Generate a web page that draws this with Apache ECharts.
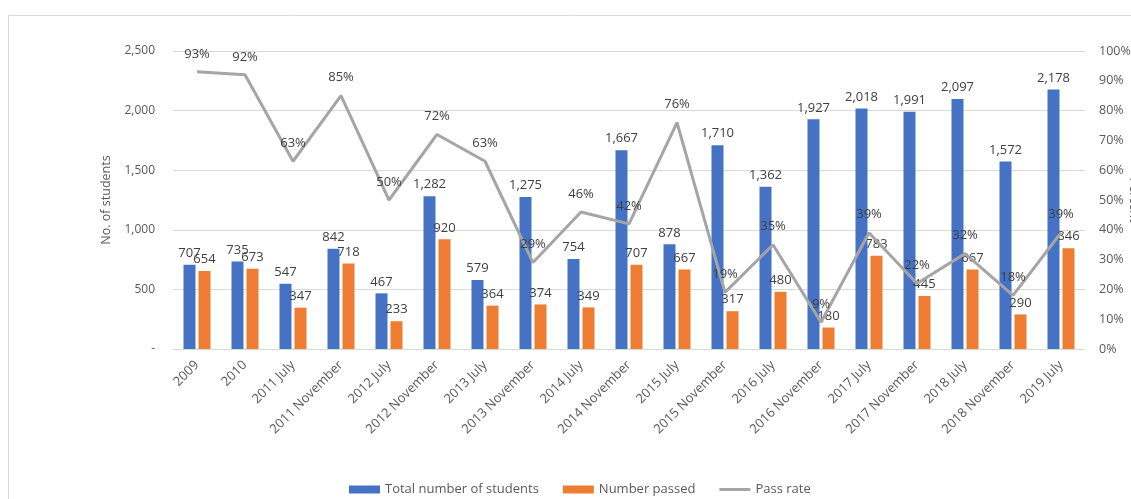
<!DOCTYPE html>
<html>
<head>
<meta charset="utf-8">
<script src="https://cdn.jsdelivr.net/npm/echarts@6/dist/echarts.min.js"></script>
<style>
html,body{margin:0;padding:0;background:#fff;}
#c{width:1131px;height:499px;}
</style>
</head>
<body>
<div id="c"></div>
<script>
const categories = ["2009","2010","2011 July","2011 November","2012 July","2012 November","2013 July","2013 November","2014 July","2014 November","2015 July","2015 November","2016 July","2016 November","2017 July","2017 November","2018 July","2018 November","2019 July"];
const totalStudents = [707,735,547,842,467,1282,579,1275,754,1667,878,1710,1362,1927,2018,1991,2097,1572,2178];
const numberPassed = [654,673,347,718,233,920,364,374,349,707,667,317,480,180,783,445,667,290,846];
const passRate = [93,92,63,85,50,72,63,29,46,42,76,19,35,9,39,22,32,18,39];

const FONT = '"Open Sans", "Liberation Sans", sans-serif';
const TXT = '#595959';
const chart = echarts.init(document.getElementById('c'), null, {renderer:'canvas'});
chart.setOption({
  animation:false,
  textStyle:{fontFamily:FONT},
  graphic:[{type:'rect',shape:{x:8.5,y:15.5,width:1140,height:500},style:{fill:'none',stroke:'#d9d9d9',lineWidth:1},silent:true}],
  grid:{left:173,right:46,top:51,bottom:150,containLabel:false,outerBoundsMode:'none'},
  legend:{
    top:478,left:344,itemWidth:31,itemHeight:8,itemGap:24,
    textStyle:{color:TXT,fontSize:13,fontFamily:FONT},
    data:[
      {name:'Total number of students',icon:'rect'},
      {name:'Number passed',icon:'rect'},
      {name:'Pass rate',icon:'path://M0,0h31v3h-31z',itemStyle:{color:'#a5a5a5',opacity:1}}
    ]
  },
  xAxis:{
    type:'category',data:categories,
    axisLine:{lineStyle:{color:'#d9d9d9',width:1}},
    axisTick:{show:false},
    axisLabel:{rotate:45,interval:0,color:TXT,fontSize:13,fontFamily:FONT,margin:14}
  },
  yAxis:[{
    type:'value',min:0,max:2500,interval:500,
    name:'No. of students',nameLocation:'middle',nameGap:60,nameRotate:90,
    nameTextStyle:{color:TXT,fontSize:12.5,fontFamily:FONT},
    axisLine:{show:false},axisTick:{show:false},
    axisLabel:{color:TXT,fontSize:12,fontFamily:FONT,margin:18,formatter:v=>v===0?'-':v.toLocaleString('en-US')},
    splitLine:{lineStyle:{color:'#d9d9d9',width:1}}
  },{
    type:'value',min:0,max:100,interval:10,position:'right',
    name:'Percent',nameLocation:'middle',nameGap:42,nameRotate:-90,nameMoveOverlap:false,
    nameTextStyle:{color:TXT,fontSize:12.5,fontFamily:FONT},
    axisLine:{show:false},axisTick:{show:false},
    axisLabel:{color:TXT,fontSize:12.5,fontFamily:FONT,margin:14,formatter:v=>v+'%'},
    splitLine:{show:false}
  }],
  series:[{
    name:'Total number of students',type:'bar',data:totalStudents,
    barWidth:12,barGap:'25%',
    itemStyle:{color:'#4472c4'},
    label:{show:true,position:'top',distance:5,color:'#404040',fontSize:13,fontFamily:FONT,formatter:p=>p.value.toLocaleString('en-US')}
  },{
    name:'Number passed',type:'bar',data:numberPassed,
    barWidth:12,
    itemStyle:{color:'#ed7d31'},
    label:{show:true,position:'top',distance:5,color:'#404040',fontSize:13,fontFamily:FONT,formatter:p=>p.value.toLocaleString('en-US')}
  },{
    name:'Pass rate',type:'line',yAxisIndex:1,data:passRate,
    symbol:'circle',symbolSize:1,showSymbol:true,
    lineStyle:{color:'#a5a5a5',width:3},
    itemStyle:{color:'rgba(165,165,165,0)',borderWidth:0},
    label:{show:true,position:'top',distance:11,color:'#404040',fontSize:13,fontFamily:FONT,formatter:p=>p.value+'%'}
  }]
});
</script>
</body>
</html>
